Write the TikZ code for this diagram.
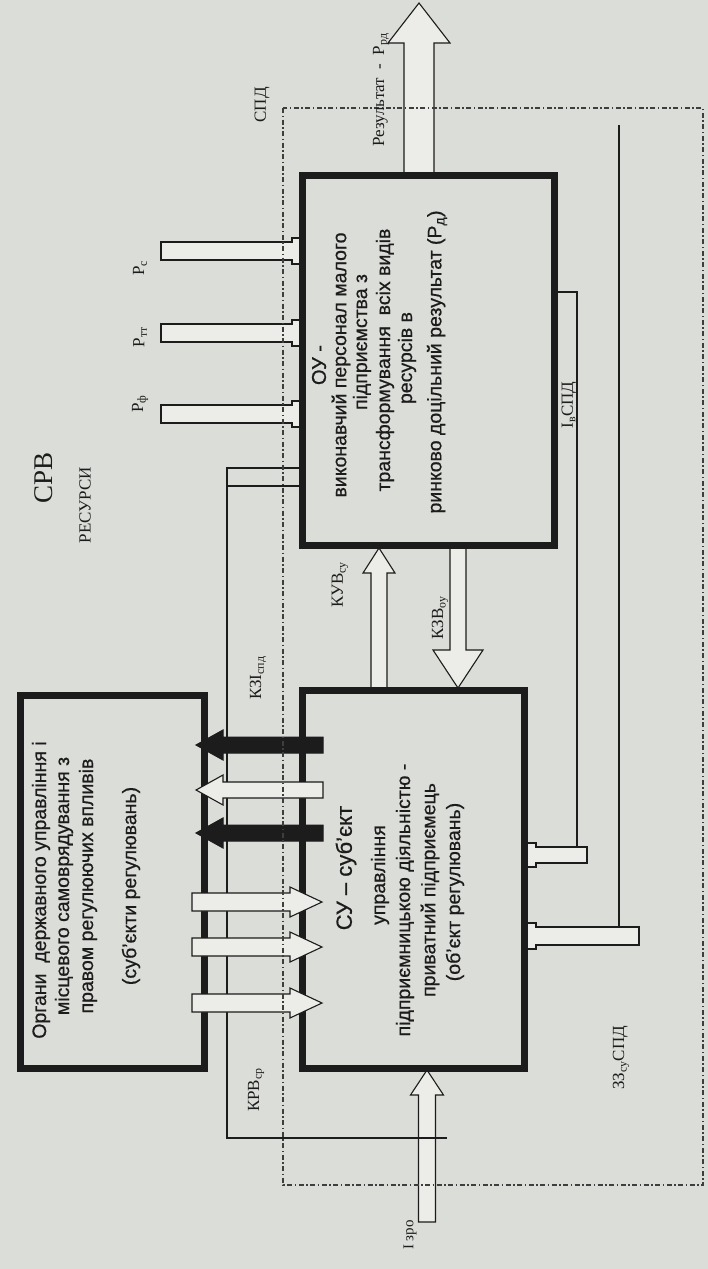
\documentclass[tikz,border=0pt]{standalone}
\usepackage{fontspec}
\setmainfont{Liberation Serif}
\newfontfamily\boxfont[FakeBold=0.6]{Liberation Sans}
\definecolor{paper}{RGB}{219,221,216}
\definecolor{ink}{RGB}{28,28,28}
\definecolor{lite}{RGB}{236,237,233}
\newcommand\harr[7]{\path[#7] (#1,#4-#5) -- (#2,#4-#5) -- (#2,#4-#6) -- (#3,#4) -- (#2,#4+#6) -- (#2,#4+#5) -- (#1,#4+#5) -- cycle;}
\newcommand\varr[7]{\path[#7] (#4-#5,#1) -- (#4-#5,#2) -- (#4-#6,#2) -- (#4,#3) -- (#4+#6,#2) -- (#4+#5,#2) -- (#4+#5,#1) -- cycle;}
\newcommand\resbar[2]{\path[hollow] (302,#1-13) -- (292,#1-13) -- (292,#1-9) -- (#2,#1-9) -- (#2,#1+9) -- (292,#1+9) -- (292,#1+13) -- (302,#1+13);}
\newcommand\rbar[3]{\path[hollow] (524,#1-#3-4) -- (536,#1-#3-4) -- (536,#1-#3) -- (#2,#1-#3) -- (#2,#1+#3) -- (536,#1+#3) -- (536,#1+#3+4) -- (524,#1+#3+4);}
\begin{document}
\begin{tikzpicture}[x=1pt,y=-1pt,
  thickbox/.style={draw=ink,line width=7pt,inner sep=0pt},
  thinline/.style={draw=ink,line width=1.1pt},
  hollow/.style={draw=ink,line width=1.1pt,fill=lite},
  solidarr/.style={draw=ink,fill=ink,line width=1pt},
  bound/.style={draw=ink!85,line width=1.2pt,dash pattern=on 5pt off 2.5pt on 1.5pt off 2.5pt},
  lbl/.style={rotate=90,inner sep=0pt,font=\fontsize{17}{19}\selectfont,text=ink},
  btxt/.style={rotate=90,inner sep=0pt,font=\boxfont\fontsize{19.5}{22}\selectfont,text=ink},
]
\fill[paper] (0,0) rectangle (708,1269);
\useasboundingbox (0,0) rectangle (708,1269);

% thin channel lines
\draw[thinline] (302,468) -- (227,468) -- (227,1138) -- (447,1138);
\draw[thinline] (227,486) -- (302,486);
\draw[thinline] (554,292) -- (577,292) -- (577,847);
\draw[thinline] (619,125) -- (619,927);

% resource bars into OU
\resbar{251}{161}
\resbar{333}{161}
\resbar{414}{161}

% bars into CY from the right
\rbar{855}{587}{8}
\rbar{936}{639}{9}

% result arrow
\varr{175}{43}{3}{419}{15}{31}{hollow}
% KUV (up) and KZV (down)
\varr{690}{573}{548}{379}{8}{16}{hollow}
\varr{545}{650}{688}{458}{8}{25}{hollow}
% I zro
\varr{1222}{1095}{1070}{427}{8.5}{16.5}{hollow}

% boxes
\node[thickbox,minimum width=184pt,minimum height=373pt] (org) at (112,881.5) {};
\node[thickbox,minimum width=222pt,minimum height=378pt] (cy) at (413,879) {};
\node[thickbox,minimum width=252pt,minimum height=370pt] (ou) at (428,360) {};

% arrows between org and CY
\harr{323}{223}{196}{745}{8}{15}{solidarr}
\harr{323}{223}{196}{790}{8}{15}{hollow}
\harr{323}{223}{196}{833}{8}{15}{solidarr}
\harr{192}{290}{322}{902}{9}{15}{hollow}
\harr{192}{290}{322}{947}{9}{15}{hollow}
\harr{192}{290}{322}{1003}{9}{15}{hollow}

% line over I zro arrow
\draw[thinline] (405,1138) -- (447,1138);

% system boundary
\path[bound] (283,108) rectangle (703,1185);

% labels
\node[lbl,font=\fontsize{27}{30}\selectfont] (srv) at (44,478) {СРВ};
\node[lbl] (res) at (85,505) {РЕСУРСИ};
\node[lbl] (pf) at (140,404) {Р\textsubscript{ф}};
\node[lbl] (pt) at (140,337) {Р\textsubscript{тт}};
\node[lbl] (pc) at (140,268) {Р\textsubscript{с}};
\node[lbl] (spd) at (262,105) {СПД};
\node[lbl] (rez) at (381,90) {Результат \ - \ Р\textsubscript{рд}};
\node[lbl] (kzi) at (258,678) {КЗІ\textsubscript{спд}};
\node[lbl] (krv) at (256,1090) {КРВ\textsubscript{ср}};
\node[lbl] (kuv) at (340,585) {КУВ\textsubscript{су}};
\node[lbl] (kzv) at (440,618) {КЗВ\textsubscript{оу}};
\node[lbl] (iv) at (569,405) {І\textsubscript{в}СПД};
\node[lbl] (zz) at (621,1058) {ЗЗ\textsubscript{су}СПД};
\node[lbl,font=\fontsize{15}{17}\selectfont] (izro) at (410,1235) {І зро};

% text in org box
\node[btxt] (o1) at (41,890) {Органи \ державного управління і};
\node[btxt] (o2) at (64,886) {місцевого самоврядування з};
\node[btxt] (o3) at (88,886) {правом регулюючих впливів};
\node[btxt] (o4) at (131,886) {(суб’єкти регулювань)};

% text in CY box
\node[btxt,font=\boxfont\fontsize{22}{24}\selectfont] (c1) at (346,868) {СУ – суб’єкт};
\node[btxt] (c2) at (380,875) {управління};
\node[btxt] (c3) at (405,900) {підприємницькою діяльністю -};
\node[btxt] (c4) at (430,890) {приватний підприємець};
\node[btxt] (c5) at (455,892) {(об’єкт регулювань)};

% text in OU box
\node[btxt,font=\boxfont\fontsize{20}{22}\selectfont] (u1) at (319,365) {ОУ -};
\node[btxt] (u2) at (341,365) {виконавчий персонал малого};
\node[btxt] (u3) at (362,342) {підприємства з};
\node[btxt] (u4) at (385,360) {трансформування \ всіх видів};
\node[btxt] (u5) at (407,358) {ресурсів в};
\node[btxt] (u6) at (437,362) {ринково доцільний результат (Р\textsubscript{д})};
\end{tikzpicture}
\end{document}
